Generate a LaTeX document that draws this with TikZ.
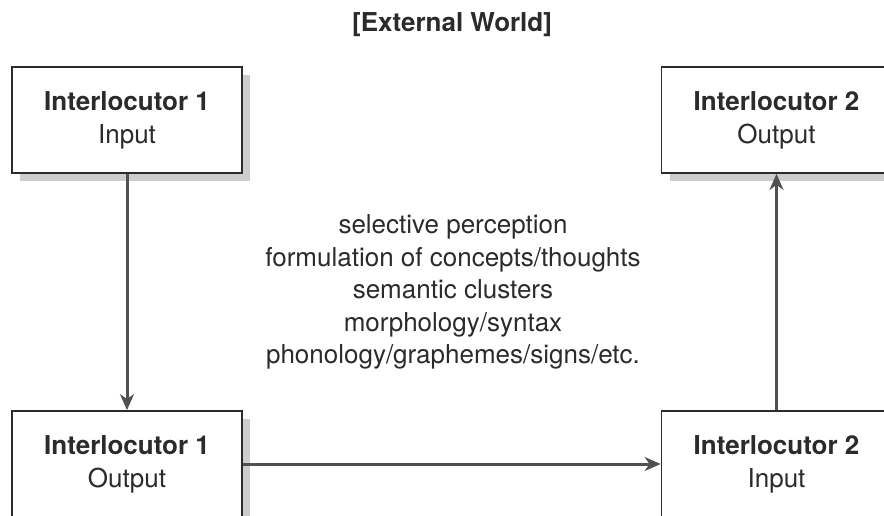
\documentclass[tikz,border=0pt]{standalone}
\usepackage{fontspec}
\setmainfont{TeX Gyre Heros}
\usetikzlibrary{arrows.meta,shadows}
\definecolor{inkc}{HTML}{2B2B2B}
\definecolor{linkc}{HTML}{505050}
\definecolor{shadc}{HTML}{CDCDCD}
\tikzset{
  party/.style={draw=inkc, line width=1.8pt, fill=white,
    minimum width=230pt, minimum height=106pt, inner sep=0pt,
    align=center, text=inkc, font=\fontsize{26}{33}\selectfont,
    drop shadow={shadow xshift=8pt, shadow yshift=-8pt, fill=shadc, opacity=1}},
  link/.style={draw=linkc, line width=3pt,
    -{Stealth[length=16pt, width=14pt, inset=5pt]}},
  caption/.style={align=center, text=inkc, inner sep=0pt},
}
\begin{document}
\begin{tikzpicture}[x=1pt, y=-1pt]
  \useasboundingbox (0,0) rectangle (884,516);
  \clip (0,0) rectangle (884,516);

  % heading
  \node[caption, font=\fontsize{26}{32}\selectfont\bfseries] (world) at (452,25) {[External World]};

  % the four interlocutor states
  \node[party] (oneIn)  at (127,120)   {\textbf{Interlocutor 1}\\Input};
  \node[party] (twoOut) at (776.5,120) {\textbf{Interlocutor 2}\\Output};
  \node[party] (oneOut) at (127,464)   {\textbf{Interlocutor 1}\\Output};
  \node[party] (twoIn)  at (776.5,464) {\textbf{Interlocutor 2}\\Input};

  % processing stages
  \node[caption, font=\fontsize{26}{32.5}\selectfont] (stages) at (453,292)
    {selective perception\\formulation of concepts/thoughts\\semantic clusters\\morphology/syntax\\phonology/graphemes/signs/etc.};

  % flow of the exchange
  \draw[link] (oneIn.south) -- (oneOut.north);
  \draw[link] (oneOut.east) -- (twoIn.west);
  \draw[link] (twoIn.north) -- (twoOut.south);
\end{tikzpicture}
\end{document}
